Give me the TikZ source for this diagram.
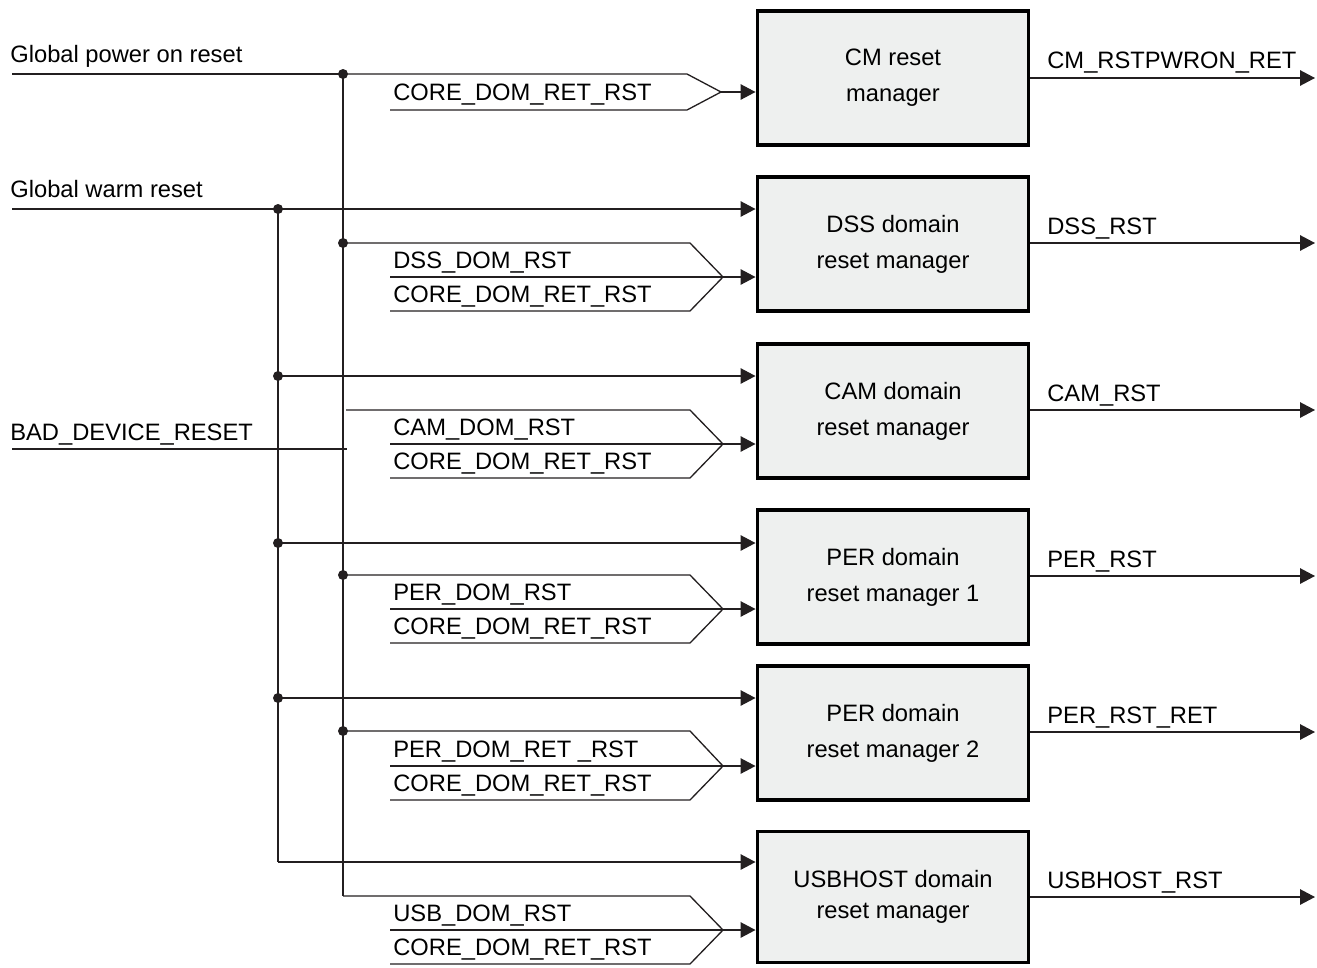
\documentclass[tikz,border=0pt]{standalone}
\usepackage{fontspec}
\setmainfont{Liberation Sans}
\usepackage{tikz}
\usetikzlibrary{arrows.meta}
\usepackage{xcolor}
\definecolor{wirec}{RGB}{35,31,32}
\definecolor{mgrfill}{RGB}{238,240,239}
\newcommand{\sz}{\fontsize{13.5}{20.5}\selectfont}
\tikzset{
  mgr/.style ={draw=black, line width=2pt, fill=mgrfill, align=center,
               minimum width=5.43cm, minimum height=2.68cm, inner sep=0pt,
               font=\sz},
  lbl/.style ={anchor=base west, inner sep=0pt, font=\sz},
  wire/.style={line width=0.75pt, draw=wirec},
  sig/.style ={-{Triangle[length=3mm, width=3.1mm]}, line width=0.75pt,
               draw=wirec},
  jdot/.style={circle, fill=wirec, inner sep=0pt, minimum size=2mm},
}

\begin{document}
\begin{tikzpicture}[x=0.02cm, y=-0.02cm]
  \useasboundingbox (0,0) rectangle (1317,967);
  % reset managers
  \node[mgr] (cm)   at (893,78)  {CM reset\\manager};
  \node[mgr] (dss)  at (893,244) {DSS domain\\reset manager};
  \node[mgr] (cam)  at (893,411) {CAM domain\\reset manager};
  \node[mgr] (per1) at (893,577) {PER domain\\reset manager 1};
  \node[mgr] (per2) at (893,733) {PER domain\\reset manager 2};
  \node[mgr, minimum height=2.62cm] (usb) at (893,897)
    {USBHOST domain\\[-3pt]reset manager};

  % global inputs
  \node[lbl] (gporL) at (10,62)  {Global power on reset};
  \node[lbl] (gwrL)  at (10,197) {Global warm reset};
  \node[lbl] (badL)  at (10,440) {BAD\_DEVICE\_RESET};
  \coordinate (gpor) at (12,74);
  \coordinate (gwr)  at (12,209);
  \coordinate (bad)  at (12,449);
  \coordinate (badE) at (347,449);

  % junctions
  \node[jdot] (p0) at (343,74)  {};
  \node[jdot] (p1) at (343,243) {};
  \node[jdot] (p3) at (343,575) {};
  \node[jdot] (p4) at (343,731) {};
  \coordinate (p5) at (343,896);
  \node[jdot] (w1) at (278,209) {};
  \node[jdot] (w2) at (278,376) {};
  \node[jdot] (w3) at (278,543) {};
  \node[jdot] (w4) at (278,698) {};
  \coordinate (w5) at (278,862);

  \draw[wire] (gpor) -- (p0.center);
  \draw[wire] (p0.center) -- (p5);
  \draw[wire] (w1.center) -- (w5);
  \draw[wire] (bad) -- (badE);

  % warm reset into every domain
  \draw[sig] (gwr) -- (dss.west |- gwr);
  \draw[sig] (w2.center) -- (cam.west |- w2);
  \draw[sig] (w3.center) -- (per1.west |- w3);
  \draw[sig] (w4.center) -- (per2.west |- w4);
  \draw[sig] (w5) -- (usb.west |- w5);

  % CM
  \coordinate (cmT) at (687,74);
  \coordinate (cmG) at (721,92);
  \coordinate (cmB) at (687,110);
  \coordinate (cmL) at (390,110);
  \draw[wire] (p0.center) -- (cmT) -- (cmG) -- (cmB) -- (cmL);
  \draw[sig] (cmG) -- (cm.west |- cmG);
  \node[lbl] (cmA) at (393,100) {CORE\_DOM\_RET\_RST};
  \coordinate (cmO) at (1315,78);
  \draw[sig] (cm.east) -- (cmO);
  \node[lbl] (cmR) at (1047,68) {CM\_RSTPWRON\_RET};

  % DSS
  \coordinate (dssT) at (690,243);
  \coordinate (dssG) at (723,277);
  \coordinate (dssB) at (690,311);
  \coordinate (dssM) at (390,277);
  \coordinate (dssL) at (390,311);
  \draw[wire] (p1.center) -- (dssT) -- (dssG) -- (dssB) -- (dssL);
  \draw[wire] (dssM) -- (dssG);
  \draw[sig] (dssG) -- (dss.west |- dssG);
  \node[lbl] (dssA) at (393,268) {DSS\_DOM\_RST};
  \node[lbl] (dssC) at (393,302) {CORE\_DOM\_RET\_RST};
  \coordinate (dssO) at (1315,243);
  \draw[sig] (dss.east |- dssO) -- (dssO);
  \node[lbl] (dssR) at (1047,234) {DSS\_RST};

  % CAM
  \coordinate (camS) at (346,410);
  \coordinate (camT) at (690,410);
  \coordinate (camG) at (723,444);
  \coordinate (camB) at (690,478);
  \coordinate (camM) at (390,444);
  \coordinate (camL) at (390,478);
  \draw[wire] (camS) -- (camT) -- (camG) -- (camB) -- (camL);
  \draw[wire] (camM) -- (camG);
  \draw[sig] (camG) -- (cam.west |- camG);
  \node[lbl] (camA) at (393,435) {CAM\_DOM\_RST};
  \node[lbl] (camC) at (393,469) {CORE\_DOM\_RET\_RST};
  \coordinate (camO) at (1315,410);
  \draw[sig] (cam.east |- camO) -- (camO);
  \node[lbl] (camR) at (1047,401) {CAM\_RST};

  % PER 1
  \coordinate (per1T) at (690,575);
  \coordinate (per1G) at (723,609);
  \coordinate (per1B) at (690,643);
  \coordinate (per1M) at (390,609);
  \coordinate (per1L) at (390,643);
  \draw[wire] (p3.center) -- (per1T) -- (per1G) -- (per1B) -- (per1L);
  \draw[wire] (per1M) -- (per1G);
  \draw[sig] (per1G) -- (per1.west |- per1G);
  \node[lbl] (per1A) at (393,600) {PER\_DOM\_RST};
  \node[lbl] (per1C) at (393,634) {CORE\_DOM\_RET\_RST};
  \coordinate (per1O) at (1315,576);
  \draw[sig] (per1.east |- per1O) -- (per1O);
  \node[lbl] (per1R) at (1047,567) {PER\_RST};

  % PER 2
  \coordinate (per2T) at (690,731);
  \coordinate (per2G) at (723,766);
  \coordinate (per2B) at (690,800);
  \coordinate (per2M) at (390,766);
  \coordinate (per2L) at (390,800);
  \draw[wire] (p4.center) -- (per2T) -- (per2G) -- (per2B) -- (per2L);
  \draw[wire] (per2M) -- (per2G);
  \draw[sig] (per2G) -- (per2.west |- per2G);
  \node[lbl] (per2A) at (393,757) {PER\_DOM\_RET \_RST};
  \node[lbl] (per2C) at (393,791) {CORE\_DOM\_RET\_RST};
  \coordinate (per2O) at (1315,732);
  \draw[sig] (per2.east |- per2O) -- (per2O);
  \node[lbl] (per2R) at (1047,723) {PER\_RST\_RET};

  % USBHOST
  \coordinate (usbT) at (690,896);
  \coordinate (usbG) at (723,930);
  \coordinate (usbB) at (690,964);
  \coordinate (usbM) at (390,930);
  \coordinate (usbL) at (390,964);
  \draw[wire] (p5) -- (usbT) -- (usbG) -- (usbB) -- (usbL);
  \draw[wire] (usbM) -- (usbG);
  \draw[sig] (usbG) -- (usb.west |- usbG);
  \node[lbl] (usbA) at (393,921) {USB\_DOM\_RST};
  \node[lbl] (usbC) at (393,955) {CORE\_DOM\_RET\_RST};
  \coordinate (usbO) at (1315,897);
  \draw[sig] (usb.east) -- (usbO);
  \node[lbl] (usbR) at (1047,888) {USBHOST\_RST};
\end{tikzpicture}
\end{document}
